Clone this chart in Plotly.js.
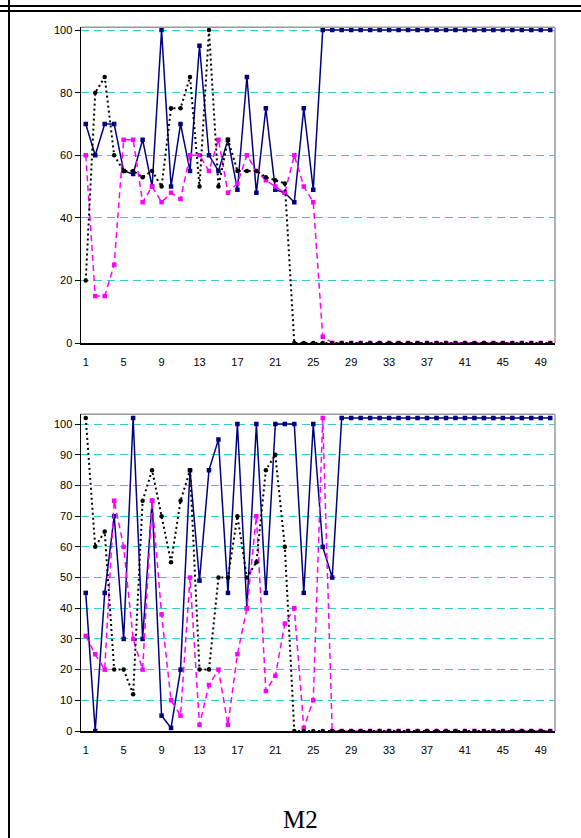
<!DOCTYPE html>
<html>
<head>
<meta charset="utf-8">
<script src="https://cdn.plot.ly/plotly-3.0.1.min.js"></script>
<style>
  html, body { margin: 0; padding: 0; background: #fff; }
  #wrap { position: relative; width: 581px; height: 838px; overflow: hidden; }
  #chart { position: absolute; left: 0; top: 0; width: 581px; height: 838px; }
  .rule { position: absolute; background: #000; }
</style>
</head>
<body>
<div id="wrap">
  <div id="chart"></div>
  <div class="rule" style="left:0;top:5px;width:581px;height:2px;"></div>
  <div class="rule" style="left:0;top:10px;width:581px;height:1.5px;"></div>
  <div class="rule" style="left:8px;top:0;width:2px;height:838px;"></div>
</div>
<script>
// ---------- data ----------
const categories = [1,2,3,4,5,6,7,8,9,10,11,12,13,14,15,16,17,18,19,20,21,22,23,24,25,26,27,28,29,30,31,32,33,34,35,36,37,38,39,40,41,42,43,44,45,46,47,48,49,50];
const xTickVals = [1,5,9,13,17,21,25,29,33,37,41,45,49];
const xTickLabels = ['1','5','9','13','17','21','25','29','33','37','41','45','49'];
const xTickMarks = [0.5,4.5,8.5,12.5,16.5,20.5,24.5,28.5,32.5,36.5,40.5,44.5,48.5];

// top chart
const topBlue = [70,60,70,70,55,54,65,50,100,50,70,55,95,60,55,65,49,85,48,75,49,48,45,75,49,
  100,100,100,100,100,100,100,100,100,100,100,100,100,100,100,100,100,100,100,100,100,100,100,100,100];
const topBlack = [20,80,85,60,55,55,53,55,50,75,75,85,50,100,50,65,55,55,55,53,52,51,0,0,0,
  0,0,0,0,0,0,0,0,0,0,0,0,0,0,0,0,0,0,0,0,0,0,0,0,0];
const topMagenta = [60,15,15,25,65,65,45,50,45,48,46,60,60,55,65,48,51,60,55,52,50,48,60,50,45,
  2,0,0,0,0,0,0,0,0,0,0,0,0,0,0,0,0,0,0,0,0,0,0,0,0];
const topYTicks = [0,20,40,60,80,100];

// bottom chart
const botBlue = [45,0,45,70,30,102,30,75,5,1,20,85,49,85,95,45,100,40,100,45,100,100,100,45,100,
  60,50,102,102,102,102,102,102,102,102,102,102,102,102,102,102,102,102,102,102,102,102,102,102,102];
const botBlack = [102,60,65,20,20,12,75,85,70,55,75,85,20,20,50,50,70,50,55,85,90,60,0,0,0,
  0,0,0,0,0,0,0,0,0,0,0,0,0,0,0,0,0,0,0,0,0,0,0,0,0];
const botMagenta = [31,25,20,75,60,30,20,75,38,10,5,50,2,15,20,2,25,40,70,13,18,35,40,1,10,
  102,0,0,0,0,0,0,0,0,0,0,0,0,0,0,0,0,0,0,0,0,0,0,0,0];
const botYTicks = [0,10,20,30,40,50,60,70,80,90,100];

const figTitle = 'M2';

// ---------- styles ----------
const NAVY = '#000080', MAG = '#FF00FF', BLK = '#000000';
const GRID = '#33CCCC';
const W = 581, H = 838;
const xDom = [81/W, 555/W];
const topDom = [(H-343)/H, (H-27.3)/H];
const botDom = [(H-731)/H, (H-414.3)/H];
const tickFont = {family: 'Liberation Sans, Arial, sans-serif', size: 11, color: '#000'};

function series(y, which, xa, ya) {
  const base = {x: categories, y: y, xaxis: xa, yaxis: ya, type: 'scatter', mode: 'lines+markers',
    hoverinfo: 'skip', showlegend: false};
  if (which === 'blue') {
    base.line = {color: NAVY, width: 1.5};
    base.marker = {symbol: 'square', size: 4.5, color: NAVY};
  } else if (which === 'mag') {
    base.line = {color: MAG, width: 1.5, dash: '6px,4px'};
    base.marker = {symbol: 'square', size: 4.5, color: MAG};
  } else {
    base.line = {color: BLK, width: 2, dash: '2px,3px'};
    base.marker = {symbol: 'circle', size: 4.5, color: BLK};
  }
  return base;
}

const traces = [
  series(topBlue, 'blue', 'x', 'y'),
  series(topMagenta, 'mag', 'x', 'y'),
  series(topBlack, 'blk', 'x', 'y'),
  series(botBlue, 'blue', 'x2', 'y2'),
  series(botMagenta, 'mag', 'x2', 'y2'),
  series(botBlack, 'blk', 'x2', 'y2'),
];

function xLabelAxis(anchor) {
  return {domain: xDom, range: [0.5, 50.5], anchor: anchor, tickmode: 'array',
    tickvals: xTickVals, ticktext: xTickLabels, ticks: '', ticklabelstandoff: 8,
    showgrid: false, zeroline: false,
    showline: true, linecolor: '#000', linewidth: 1.5, tickfont: tickFont, fixedrange: true};
}
function xTickAxis(overlay, anchor) {
  return {domain: xDom, range: [0.5, 50.5], overlaying: overlay, anchor: anchor, tickmode: 'array',
    tickvals: xTickMarks, ticks: 'outside', ticklen: 4, tickcolor: '#000', tickwidth: 1,
    showticklabels: false, showgrid: false, zeroline: false, showline: false, fixedrange: true};
}
function yAxis(dom, range, ticks, anchor) {
  return {domain: dom, range: range, anchor: anchor, tickmode: 'array', tickvals: ticks,
    ticks: 'outside', ticklen: 5, tickcolor: '#000', tickwidth: 1,
    showgrid: true, gridcolor: GRID, gridwidth: 1, griddash: '8px,5px',
    zeroline: false, showline: true, linecolor: '#000', linewidth: 1.5,
    tickfont: tickFont, fixedrange: true};
}

const layout = {
  width: W, height: H,
  margin: {l: 0, r: 0, t: 0, b: 0},
  paper_bgcolor: '#fff', plot_bgcolor: '#fff',
  showlegend: false,
  xaxis: xLabelAxis('y'),
  yaxis: yAxis(topDom, [0, 100.9], topYTicks, 'x'),
  xaxis2: xLabelAxis('y2'),
  yaxis2: yAxis(botDom, [0, 103.2], botYTicks, 'x2'),
  xaxis3: xTickAxis('x', 'y'),
  xaxis4: xTickAxis('x2', 'y2'),
  shapes: [
    {type: 'line', xref: 'paper', yref: 'paper', x0: xDom[0], x1: xDom[1], y0: topDom[1], y1: topDom[1], line: {color: '#999', width: 1.5}},
    {type: 'line', xref: 'paper', yref: 'paper', x0: xDom[1], x1: xDom[1], y0: topDom[0], y1: topDom[1], line: {color: '#999', width: 1.5}},
    {type: 'line', xref: 'paper', yref: 'paper', x0: xDom[0], x1: xDom[1], y0: botDom[1], y1: botDom[1], line: {color: '#999', width: 1.5}},
    {type: 'line', xref: 'paper', yref: 'paper', x0: xDom[1], x1: xDom[1], y0: botDom[0], y1: botDom[1], line: {color: '#999', width: 1.5}},
  ],
  annotations: [
    {text: figTitle, xref: 'paper', yref: 'paper', x: 300/W, y: (H-819)/H, xanchor: 'center', yanchor: 'middle',
     showarrow: false, font: {family: 'Liberation Serif, Times New Roman, serif', size: 25, color: '#000'}}
  ]
};

Plotly.newPlot('chart', traces, layout, {staticPlot: true, displayModeBar: false});
</script>
</body>
</html>
